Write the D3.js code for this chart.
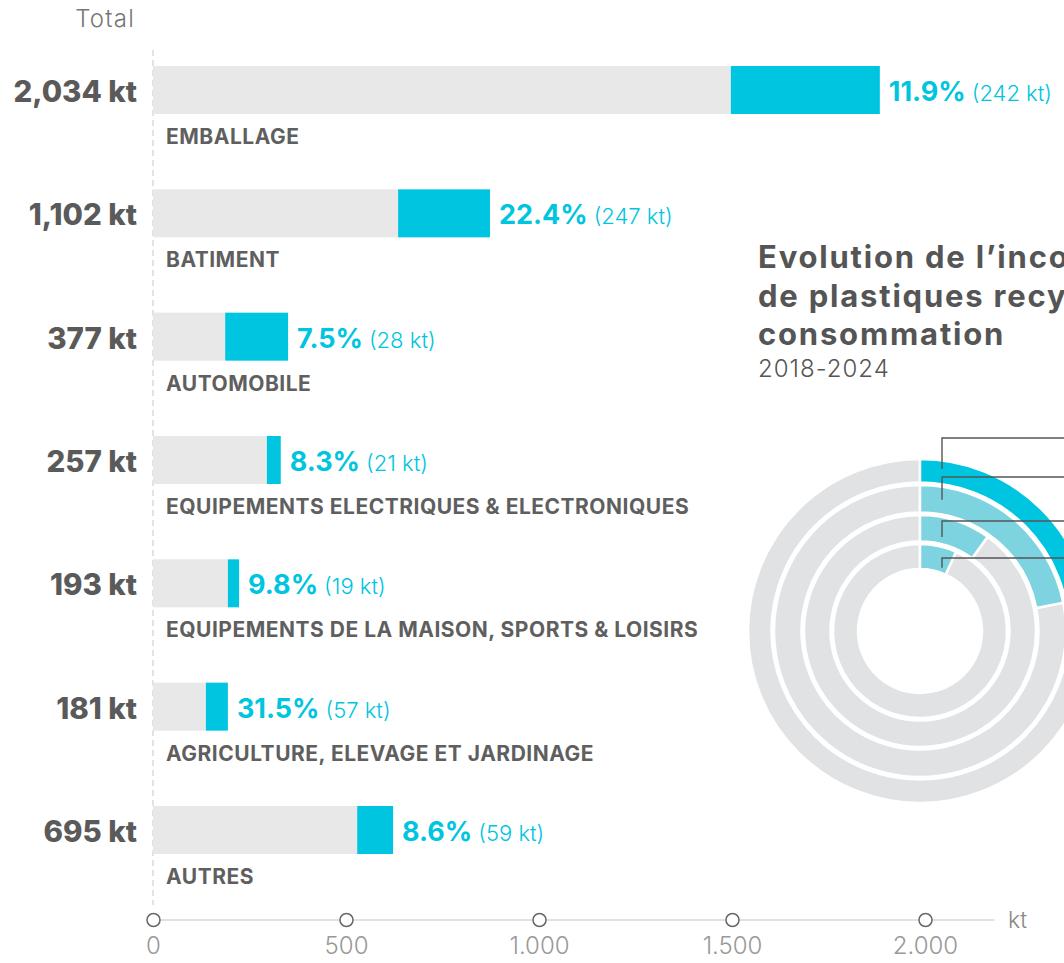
<!DOCTYPE html>
<html>
<head>
<meta charset="utf-8">
<script src="https://cdn.jsdelivr.net/npm/d3@7/dist/d3.min.js"></script>
<style>
  body { margin: 0; background: #fff; }
  svg { display: block; font-family: Inter, "Noto Sans", sans-serif; }
</style>
</head>
<body>
<div class="visualization"></div>
<script>
// categories (top to bottom)
var categories = ["EMBALLAGE", "BATIMENT", "AUTOMOBILE",
  "EQUIPEMENTS ELECTRIQUES & ELECTRONIQUES",
  "EQUIPEMENTS DE LA MAISON, SPORTS & LOISIRS",
  "AGRICULTURE, ELEVAGE ET JARDINAGE", "AUTRES"];
var totalLabels = ["2,034 kt", "1,102 kt", "377 kt", "257 kt", "193 kt", "181 kt", "695 kt"];
var pctLabels = ["11.9%", "22.4%", "7.5%", "8.3%", "9.8%", "31.5%", "8.6%"];
var recycledLabels = ["(242 kt)", "(247 kt)", "(28 kt)", "(21 kt)", "(19 kt)", "(57 kt)", "(59 kt)"];
// bar lengths as drawn, read against the kt axis
var greyEnd = [1497, 635, 187, 295, 194, 137, 529];
var cyanEnd = [1883, 873, 350, 331, 223, 194, 622];
// axis
var axisTicks = [0, 500, 1000, 1500, 2000];
var axisTickLabels = ["0", "500", "1.000", "1.500", "2.000"];
// donut: share of recycled plastics per ring, outer to inner (%)
var ringYears = ["2024", "2022", "2020", "2018"];
var ringShare = [25, 21.9, 9.9, 6.8];

var width = 1064, height = 963;
var cyan = "#00c5e0", lightCyan = "#7dd3e0";

var svg = d3.select(".visualization").append("svg")
  .attr("width", width).attr("height", height);

var x = d3.scaleLinear().domain([0, 2000]).range([153, 925]);
var y = d3.scalePoint().domain(categories).range([66, 806]);
var barH = 48;

// "Total" header
svg.append("text").attr("x", 135).attr("y", 27).attr("text-anchor", "end")
  .attr("font-size", 24).attr("font-weight", 300).attr("fill", "#777")
  .attr("letter-spacing", 1.2).text("Total");

// dashed zero line
svg.append("line").attr("x1", x(0)).attr("x2", x(0)).attr("y1", 50).attr("y2", 905)
  .attr("stroke", "#d0d0d0").attr("stroke-width", 1.2).attr("stroke-dasharray", "6,4");

var rows = svg.selectAll(".row").data(categories).enter().append("g")
  .attr("class", "row").attr("transform", function(d){ return "translate(0," + y(d) + ")"; });

rows.append("rect").attr("x", x(0)).attr("y", 0).attr("height", barH)
  .attr("width", function(d, i){ return x(greyEnd[i]) - x(0); }).attr("fill", "#e8e8e8");
rows.append("rect").attr("x", function(d, i){ return x(greyEnd[i]); }).attr("y", 0).attr("height", barH)
  .attr("width", function(d, i){ return x(cyanEnd[i]) - x(greyEnd[i]); }).attr("fill", cyan);

rows.append("text").attr("x", 137).attr("y", 36).attr("text-anchor", "end")
  .attr("font-size", 29.5).attr("font-weight", 800).attr("fill", "#5a5a5a")
  .text(function(d, i){ return totalLabels[i]; });

var pct = rows.append("text").attr("x", function(d, i){ return x(cyanEnd[i]) + 9; }).attr("y", 35)
  .attr("fill", cyan);
pct.append("tspan").attr("font-size", 27).attr("font-weight", 700)
  .text(function(d, i){ return pctLabels[i]; });
pct.append("tspan").attr("font-size", 22).attr("font-weight", 300).attr("dx", 6)
  .text(function(d, i){ return recycledLabels[i]; });

rows.append("text").attr("x", 166).attr("y", 78)
  .attr("font-size", 21).attr("font-weight", 700).attr("fill", "#5f5f5f")
  .attr("letter-spacing", 0.5)
  .text(function(d){ return d; });

// bottom axis
var axisY = 920;
svg.append("line").attr("x1", x(0)).attr("x2", x(2180)).attr("y1", axisY).attr("y2", axisY)
  .attr("stroke", "#d8d8d8").attr("stroke-width", 1.5);
var ax = svg.append("g").attr("transform", "translate(0," + axisY + ")")
  .call(d3.axisBottom(x).tickValues(axisTicks).tickSize(0).tickPadding(17)
    .tickFormat(function(d, i){ return axisTickLabels[i]; }));
ax.select(".domain").remove();
ax.selectAll(".tick").append("circle").attr("r", 6.5)
  .attr("fill", "#fff").attr("stroke", "#666").attr("stroke-width", 1.5);
ax.selectAll(".tick text").attr("font-family", "Inter, sans-serif").attr("font-size", 24)
  .attr("font-weight", 300).attr("fill", "#999");
svg.append("text").attr("x", 1008).attr("y", axisY + 8).attr("font-size", 23)
  .attr("font-weight", 300).attr("fill", "#888").text("kt");

// donut title
var title = svg.append("text").attr("x", 758).attr("fill", "#555")
  .attr("font-size", 31).attr("font-weight", 700).attr("letter-spacing", 1.8);
["Evolution de l\u2019incorporation", "de plastiques recyclés dans la", "consommation"]
  .forEach(function(t, i){
    title.append("tspan").attr("x", 758).attr("y", 268 + i * 38.5).text(t);
  });
svg.append("text").attr("x", 758).attr("y", 377).attr("font-size", 24)
  .attr("font-weight", 300).attr("fill", "#555").attr("letter-spacing", 1).text("2018-2024");

// concentric rings
var cx = 920, cy = 631;
var ringOuter = [172, 146, 116, 87];
var ringInner = [148.5, 118.5, 89.5, 62];
var angle = d3.scaleLinear().domain([0, 100]).range([0, 2 * Math.PI]);
var donut = svg.append("g").attr("transform", "translate(" + cx + "," + cy + ")");
ringYears.forEach(function(yr, i){
  var arc = d3.arc().innerRadius(ringInner[i]).outerRadius(ringOuter[i]);
  donut.append("path").attr("d", arc({startAngle: angle(ringShare[i]), endAngle: 2 * Math.PI}))
    .attr("fill", "#e1e2e4").attr("stroke", "#fff").attr("stroke-width", 2.5);
  donut.append("path").attr("d", arc({startAngle: 0, endAngle: angle(ringShare[i])}))
    .attr("fill", i === 0 ? cyan : lightCyan).attr("stroke", "#fff").attr("stroke-width", 2.5);
});

// leader lines
var leaderX = 942;
var leaderTop = [438, 477, 521, 558];
var leaderR = [163.5, 133, 96.5, 67];
leaderTop.forEach(function(t, i){
  var dx = leaderX - cx;
  var yEnd = cy - Math.sqrt(leaderR[i] * leaderR[i] - dx * dx);
  svg.append("path")
    .attr("d", "M" + leaderX + "," + yEnd + "V" + t + "H" + (width + 5))
    .attr("fill", "none").attr("stroke", "#555").attr("stroke-width", 1.4);
});
</script>
</body>
</html>
